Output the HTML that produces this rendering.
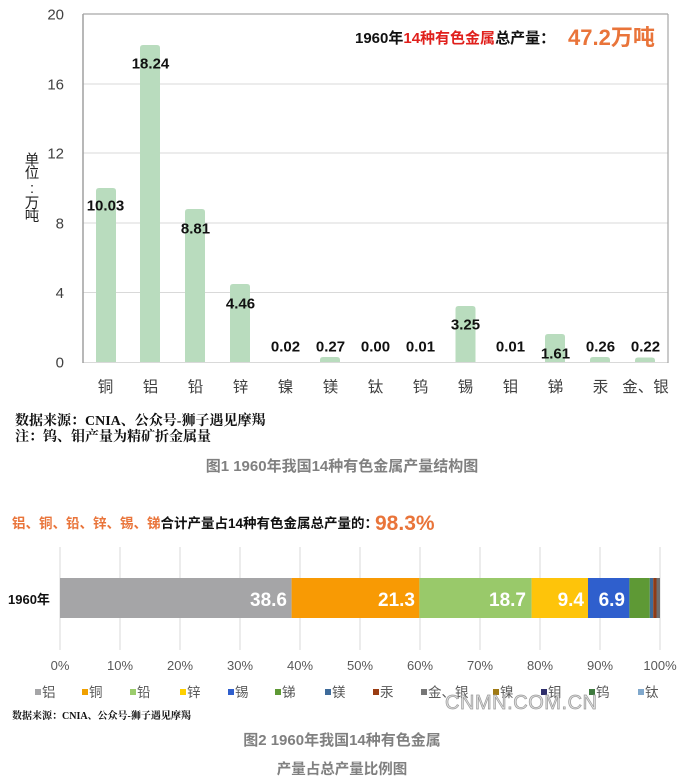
<!DOCTYPE html>
<html><head><meta charset="utf-8"><style>
html,body{margin:0;padding:0;background:#fff;}
svg{display:block;}
.s{font-family:"Liberation Sans","Noto Sans CJK SC",sans-serif;}
.sf{font-family:"Liberation Serif","Noto Serif CJK SC",serif;}
</style></head><body>
<svg width="693" height="780" viewBox="0 0 693 780" xmlns="http://www.w3.org/2000/svg" class="s">
<rect width="693" height="780" fill="#fff"/>
<!-- Chart 1 gridlines -->
<g stroke="#d9d9d9" stroke-width="1">
<line x1="83" y1="84" x2="668" y2="84"/>
<line x1="83" y1="153" x2="668" y2="153"/>
<line x1="83" y1="223" x2="668" y2="223"/>
<line x1="83" y1="292.5" x2="668" y2="292.5"/>
<line x1="83" y1="362.5" x2="668" y2="362.5"/>
</g>
<line x1="83" y1="14" x2="668" y2="14" stroke="#a6a6a6" stroke-width="1.2"/>
<line x1="668" y1="14" x2="668" y2="363" stroke="#a6a6a6" stroke-width="1.2"/>
<line x1="83" y1="14" x2="83" y2="363" stroke="#a0a0a0" stroke-width="1.5"/>
<!-- y ticks -->
<g font-size="15" fill="#404040" text-anchor="end">
<text x="64" y="19.5">20</text>
<text x="64" y="89.5">16</text>
<text x="64" y="158.5">12</text>
<text x="64" y="228.5">8</text>
<text x="64" y="298">4</text>
<text x="64" y="367.5">0</text>
</g>
<g font-size="14.5" fill="#222" text-anchor="middle">
<text x="32" y="165">单</text>
<text x="32" y="178">位</text>
<text x="32" y="193">:</text>
<text x="32" y="208">万</text>
<text x="32" y="221">吨</text>
</g>
<!-- bars -->
<g fill="#b9dcbe">
<path d="M96,362 V191 q0,-3 3,-3 h14 q3,0 3,3 V362 Z"/>
<path d="M140,362 V48 q0,-3 3,-3 h14 q3,0 3,3 V362 Z"/>
<path d="M185,362 V212 q0,-3 3,-3 h14 q3,0 3,3 V362 Z"/>
<path d="M230,362 V287 q0,-3 3,-3 h14 q3,0 3,3 V362 Z"/>
<path d="M320,362 V360 q0,-3 3,-3 h14 q3,0 3,3 V362 Z"/>
<path d="M455.5,362 V309 q0,-3 3,-3 h14 q3,0 3,3 V362 Z"/>
<path d="M545,362 V337 q0,-3 3,-3 h14 q3,0 3,3 V362 Z"/>
<path d="M590,362 V360 q0,-3 3,-3 h14 q3,0 3,3 V362 Z"/>
<path d="M635,362 V360.5 q0,-3 3,-3 h14 q3,0 3,3 V362 Z"/>
</g>
<!-- bar labels -->
<g font-size="15" font-weight="bold" fill="#111" text-anchor="middle">
<text x="105.5" y="210.5">10.03</text>
<text x="150.5" y="68.5">18.24</text>
<text x="195.5" y="233.5">8.81</text>
<text x="240.5" y="308.5">4.46</text>
<text x="285.5" y="351.5">0.02</text>
<text x="330.5" y="351.5">0.27</text>
<text x="375.5" y="351.5">0.00</text>
<text x="420.5" y="351.5">0.01</text>
<text x="465.5" y="329.5">3.25</text>
<text x="510.5" y="351.5">0.01</text>
<text x="555.5" y="358.5">1.61</text>
<text x="600.5" y="351.5">0.26</text>
<text x="645.5" y="351.5">0.22</text>
</g>
<!-- x labels -->
<g font-size="15.5" fill="#404040" text-anchor="middle">
<text x="105.5" y="392">铜</text>
<text x="150.5" y="392">铝</text>
<text x="195.5" y="392">铅</text>
<text x="240.5" y="392">锌</text>
<text x="285.5" y="392">镍</text>
<text x="330.5" y="392">镁</text>
<text x="375.5" y="392">钛</text>
<text x="420.5" y="392">钨</text>
<text x="465.5" y="392">锡</text>
<text x="510.5" y="392">钼</text>
<text x="555.5" y="392">锑</text>
<text x="600.5" y="392">汞</text>
<text x="645.5" y="392">金、银</text>
</g>
<!-- chart1 title -->
<text x="355" y="43" font-size="15" font-weight="bold" fill="#111">1960年<tspan fill="#e0201c">14种有色金属</tspan>总产量：</text>
<text x="568" y="45" font-size="22" font-weight="bold" fill="#e9743a">47.2万吨</text>
<!-- source 1 -->
<g class="sf" font-size="14" font-weight="bold" fill="#111">
<text x="15" y="425">数据来源：CNIA、公众号-狮子遇见摩羯</text>
<text x="15" y="441">注：钨、钼产量为精矿折金属量</text>
</g>
<text x="342" y="471" font-size="15" font-weight="bold" fill="#808080" text-anchor="middle">图1 1960年我国14种有色金属产量结构图</text>

<!-- Chart 2 -->
<text x="12" y="528" font-size="13.5" font-weight="bold" fill="#e9743a">铝、铜、铅、锌、锡、锑<tspan fill="#111">合计产量占14种有色金属总产量的：</tspan></text>
<text x="375" y="530" font-size="21" font-weight="bold" fill="#e9743a">98.3%</text>
<g stroke="#d9d9d9" stroke-width="1">
<line x1="60" y1="547" x2="60" y2="650"/>
<line x1="120" y1="547" x2="120" y2="650"/>
<line x1="180" y1="547" x2="180" y2="650"/>
<line x1="240" y1="547" x2="240" y2="650"/>
<line x1="300" y1="547" x2="300" y2="650"/>
<line x1="360" y1="547" x2="360" y2="650"/>
<line x1="420" y1="547" x2="420" y2="650"/>
<line x1="480" y1="547" x2="480" y2="650"/>
<line x1="540" y1="547" x2="540" y2="650"/>
<line x1="600" y1="547" x2="600" y2="650"/>
<line x1="660" y1="547" x2="660" y2="650"/>
</g>
<g>
<rect x="60" y="578" width="231.6" height="40" fill="#a5a5a7"/>
<rect x="291.6" y="578" width="127.8" height="40" fill="#f89a04"/>
<rect x="419.4" y="578" width="112.2" height="40" fill="#99c96a"/>
<rect x="531.6" y="578" width="56.4" height="40" fill="#fec40a"/>
<rect x="588" y="578" width="41.4" height="40" fill="#2f5fcd"/>
<rect x="629.4" y="578" width="20.4" height="40" fill="#5e9935"/>
<rect x="649.8" y="578" width="3.4" height="40" fill="#3e6b9a"/>
<rect x="653.2" y="578" width="3.3" height="40" fill="#8e3a17"/>
<rect x="656.5" y="578" width="3.5" height="40" fill="#6f6f6f"/>
</g>
<g font-size="19" font-weight="bold" fill="#fff" text-anchor="end">
<text x="287" y="606">38.6</text>
<text x="415" y="606">21.3</text>
<text x="526" y="606">18.7</text>
<text x="584" y="606">9.4</text>
<text x="625" y="606">6.9</text>
</g>
<text x="8" y="604" font-size="13" font-weight="bold" fill="#111">1960年</text>
<g font-size="13" fill="#595959" text-anchor="middle">
<text x="60" y="670">0%</text>
<text x="120" y="670">10%</text>
<text x="180" y="670">20%</text>
<text x="240" y="670">30%</text>
<text x="300" y="670">40%</text>
<text x="360" y="670">50%</text>
<text x="420" y="670">60%</text>
<text x="480" y="670">70%</text>
<text x="540" y="670">80%</text>
<text x="600" y="670">90%</text>
<text x="660" y="670">100%</text>
</g>
<!-- legend -->
<g font-size="13.5" fill="#595959">
<rect x="35" y="689" width="6" height="6" fill="#a5a5a7"/><text x="42" y="697">铝</text>
<rect x="82" y="689" width="6" height="6" fill="#f0a000"/><text x="89" y="697">铜</text>
<rect x="130" y="689" width="6" height="6" fill="#9bcc6c"/><text x="137" y="697">铅</text>
<rect x="180" y="689" width="6" height="6" fill="#fed000"/><text x="187" y="697">锌</text>
<rect x="228" y="689" width="6" height="6" fill="#2f5fcd"/><text x="235" y="697">锡</text>
<rect x="275" y="689" width="6" height="6" fill="#5e9935"/><text x="282" y="697">锑</text>
<rect x="325" y="689" width="6" height="6" fill="#3e6b9a"/><text x="332" y="697">镁</text>
<rect x="373" y="689" width="6" height="6" fill="#9a3c12"/><text x="380" y="697">汞</text>
<rect x="421" y="689" width="6" height="6" fill="#777"/><text x="428" y="697">金、银</text>
<rect x="493" y="689" width="6" height="6" fill="#a07a14"/><text x="500" y="697">镍</text>
<rect x="541" y="689" width="6" height="6" fill="#2f2f6c"/><text x="548" y="697">钼</text>
<rect x="589" y="689" width="6" height="6" fill="#3e7a3e"/><text x="596" y="697">钨</text>
<rect x="638" y="689" width="6" height="6" fill="#80a8cc"/><text x="645" y="697">钛</text>
</g>
<text x="445" y="709" font-size="20" fill="#dedede" stroke="#9a9a9a" stroke-width="0.7" textLength="152">CNMN.COM.CN</text>
<text x="12" y="719" class="sf" font-size="10" font-weight="bold" fill="#111">数据来源：CNIA、公众号-狮子遇见摩羯</text>
<text x="342" y="745" font-size="15" font-weight="bold" fill="#808080" text-anchor="middle">图2 1960年我国14种有色金属</text>
<text x="342" y="774" font-size="14.5" font-weight="bold" fill="#808080" text-anchor="middle">产量占总产量比例图</text>
</svg>
</body></html>
